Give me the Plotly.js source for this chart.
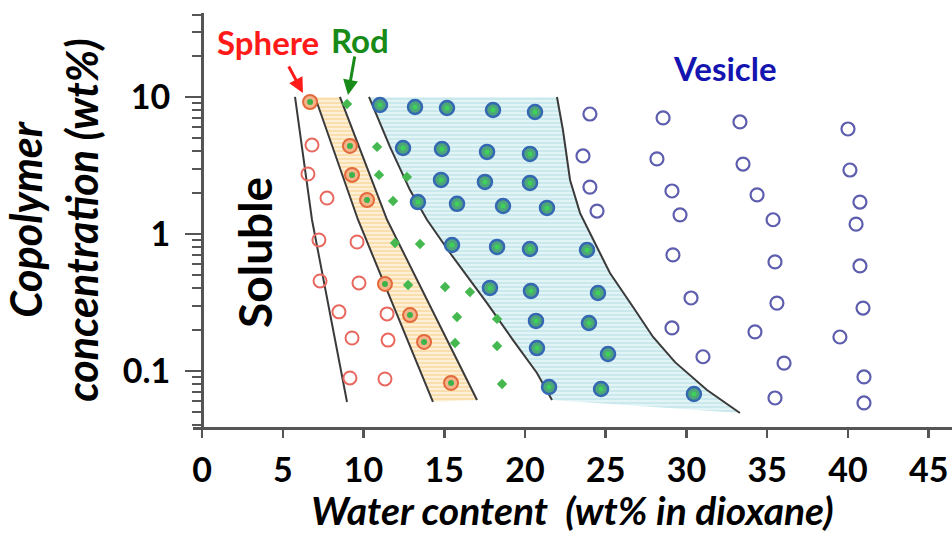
<!DOCTYPE html>
<html>
<head>
<meta charset="utf-8">
<script src="https://cdn.plot.ly/plotly-3.0.1.min.js"></script>
<style>html,body{margin:0;padding:0;background:#fff;}#chart{width:952px;height:533px;}</style>
</head>
<body>
<div id="chart"></div>
<script>
// ---- data ----
const xTicks = [0, 5, 10, 15, 20, 25, 30, 35, 40, 45];
const yTicks = [0.1, 1, 10];
const yTickText = ['0.1', '1', '10'];
const yMinorTicks = [0.04, 0.05, 0.06, 0.07, 0.08, 0.09, 0.2, 0.3, 0.4, 0.5, 0.6, 0.7, 0.8, 0.9,
                     2, 3, 4, 5, 6, 7, 8, 9, 20, 30, 40];

// Sphere (open red)
const sphereX = [6.81, 6.56, 7.74, 7.24, 9.60, 7.31, 9.72, 8.48, 11.46, 9.29, 11.52, 9.16, 11.33];
const sphereY = [4.46, 2.74, 1.83, 0.904, 0.874, 0.454, 0.439, 0.270, 0.261, 0.174, 0.168, 0.0889, 0.0874];

// Sphere + rod (red ring, green centre)
const mixSRX = [6.69, 9.16, 9.29, 10.22, 11.33, 12.88, 13.75, 15.42];
const mixSRY = [9.19, 4.39, 2.70, 1.77, 0.432, 0.256, 0.163, 0.0818];

// Rod (green)
const rodX = [8.98, 10.84, 10.96, 12.69, 11.83, 11.95, 13.50, 12.76, 15.05, 16.59, 15.79, 18.27, 15.67, 18.27, 18.58];
const rodY = [8.89, 4.32, 2.70, 2.61, 1.74, 0.860, 0.845, 0.424, 0.410, 0.377, 0.248, 0.240, 0.160, 0.152, 0.0804];

// Rod + vesicle (blue ring, green centre)
const mixRVX = [11.02, 13.19, 15.17, 18.02, 20.62, 12.45, 14.86, 17.65, 20.31, 14.80, 17.52, 20.31,
                13.37, 15.79, 18.64, 21.36, 15.48, 18.27, 20.31, 23.84, 17.83, 20.37, 24.52,
                20.68, 23.96, 20.74, 25.14, 21.49, 24.71, 30.46];
const mixRVY = [8.74, 8.45, 8.31, 8.04, 7.77, 4.24, 4.17, 3.97, 3.84, 2.48, 2.40, 2.36,
                1.71, 1.66, 1.60, 1.55, 0.831, 0.804, 0.777, 0.764, 0.404, 0.384, 0.371,
                0.232, 0.224, 0.147, 0.133, 0.0764, 0.0739, 0.0679];

// Vesicle (open blue)
const vesX = [24.02, 28.55, 33.31, 40.00, 23.59, 28.17, 33.50, 40.12, 24.02, 29.10, 34.37, 40.74,
              24.46, 29.60, 35.36, 40.50, 29.16, 35.48, 40.74, 30.28, 35.60, 40.93,
              29.10, 34.24, 39.50, 31.02, 36.04, 40.99, 35.48, 40.99];
const vesY = [7.51, 7.03, 6.57, 5.84, 3.71, 3.53, 3.24, 2.93, 2.20, 2.06, 1.93, 1.71,
              1.47, 1.38, 1.27, 1.18, 0.703, 0.625, 0.584, 0.341, 0.313, 0.288,
              0.206, 0.193, 0.177, 0.127, 0.114, 0.0904, 0.0635, 0.0584];

// Phase boundaries
const b1X = [5.76, 6.81, 8.98];            const b1Y = [10, 1.27, 0.0594];
const b2X = [7.00, 9.66, 14.30];           const b2Y = [10, 1.27, 0.0594];
const b3X = [8.54, 11.46, 17.03];          const b3Y = [10, 1.27, 0.0614];
const b4X = [10.34, 11.64, 12.88, 13.93, 15.36, 17.65, 19.26, 20.74, 21.67];
const b4Y = [10, 4.32, 2.09, 1.27, 0.726, 0.313, 0.168, 0.0966, 0.0614];
const b5X = [21.98, 22.35, 22.79, 23.41, 24.33, 25.26, 26.69, 27.93, 29.29, 31.27, 33.31];
const b5Y = [10, 5.74, 2.48, 1.42, 0.859, 0.519, 0.293, 0.177, 0.116, 0.0726, 0.0493];

// ---- traces ----
const lineStyle = {color: '#3a3a3a', width: 2};
const traces = [
  { // orange band (sphere + rod)
    x: b2X.concat(b3X.slice().reverse()), y: b2Y.concat(b3Y.slice().reverse()),
    mode: 'lines', fill: 'toself', fillcolor: '#fdf0d6', line: {width: 0},
    fillpattern: {shape: '-', fgcolor: '#f9d79c', bgcolor: '#fdf0d6', size: 4, solidity: 0.35},
    hoverinfo: 'skip', showlegend: false
  },
  { // cyan region (rod + vesicle)
    x: b4X.concat(b5X.slice().reverse()), y: b4Y.concat(b5Y.slice().reverse()),
    mode: 'lines', fill: 'toself', fillcolor: '#e3f4f6', line: {width: 0},
    fillpattern: {shape: '-', fgcolor: '#bfe5ea', bgcolor: '#e3f4f6', size: 4, solidity: 0.35},
    hoverinfo: 'skip', showlegend: false
  },
  {x: b1X, y: b1Y, mode: 'lines', line: lineStyle, showlegend: false},
  {x: b2X, y: b2Y, mode: 'lines', line: lineStyle, showlegend: false},
  {x: b3X, y: b3Y, mode: 'lines', line: lineStyle, showlegend: false},
  {x: b4X, y: b4Y, mode: 'lines', line: lineStyle, showlegend: false},
  {x: b5X, y: b5Y, mode: 'lines', line: lineStyle, showlegend: false},
  {x: sphereX, y: sphereY, mode: 'markers', name: 'Sphere',
   marker: {symbol: 'circle-open', size: 13, color: '#e8685f', line: {width: 2}}, showlegend: false},
  {x: mixSRX, y: mixSRY, mode: 'markers', name: 'Sphere + Rod',
   marker: {symbol: 'circle', size: 14, color: '#f6b48a', line: {color: '#e26a3c', width: 2}}, showlegend: false},
  {x: mixSRX, y: mixSRY, mode: 'markers', hoverinfo: 'skip',
   marker: {symbol: 'circle', size: 6, color: '#3cb44b'}, showlegend: false},
  {x: rodX, y: rodY, mode: 'markers', name: 'Rod',
   marker: {symbol: 'diamond', size: 8, color: '#45b94f'}, showlegend: false},
  {x: mixRVX, y: mixRVY, mode: 'markers', name: 'Rod + Vesicle',
   marker: {symbol: 'circle', size: 14, color: '#4ea57a', line: {color: '#3568b2', width: 2.5}}, showlegend: false},
  {x: mixRVX, y: mixRVY, mode: 'markers', hoverinfo: 'skip',
   marker: {symbol: 'circle', size: 5, color: '#3ed15a'}, showlegend: false},
  {x: vesX, y: vesY, mode: 'markers', name: 'Vesicle',
   marker: {symbol: 'circle-open', size: 13, color: '#5e5eae', line: {width: 2.2}}, showlegend: false}
];

const tickFont = {family: 'Lato, "Open Sans", sans-serif', size: 34, color: '#000', weight: 'bold'};
const xTitleFont = {family: 'Lato, "Open Sans", sans-serif', size: 39, color: '#000', weight: 'bold', style: 'italic'};
const yTitleFont = {family: 'Lato, "Open Sans", sans-serif', size: 43, color: '#000', weight: 'bold', style: 'italic'};

const layout = {
  width: 952, height: 533,
  margin: {l: 193, r: 0, t: 13, b: 106},
  paper_bgcolor: '#ffffff', plot_bgcolor: '#ffffff',
  showlegend: false,
  xaxis: {
    range: [-0.557, 46.44], tickmode: 'array', tickvals: xTicks,
    ticks: 'outside', ticklen: 8, tickwidth: 2.5, tickcolor: '#555',
    showline: true, linecolor: '#555', linewidth: 2.5,
    showgrid: false, zeroline: false, tickfont: tickFont, ticklabelstandoff: 4,
    title: {text: 'Water content\u00a0 (wt% in dioxane)', font: xTitleFont, standoff: 0}
  },
  yaxis: {
    type: 'log', range: [-1.409, 1.613], anchor: 'free', position: 0.01186,
    tickmode: 'array', tickvals: yTicks, ticktext: yTickText,
    ticks: 'outside', ticklen: 16, tickwidth: 2.5, tickcolor: '#555',
    minor: {tickmode: 'array', tickvals: yMinorTicks, ticks: 'outside', ticklen: 9, tickwidth: 2, tickcolor: '#555'},
    showline: true, linecolor: '#555', linewidth: 2.5,
    showgrid: false, zeroline: false, tickfont: tickFont, ticklabelstandoff: 8,
    title: {text: 'Copolymer<br>concentration (wt%)', font: yTitleFont, standoff: 14}
  },
  annotations: [
    {x: 4.09, y: 1.401, xref: 'x', yref: 'y', text: 'Sphere', showarrow: false,
     font: {family: 'Lato, sans-serif', size: 33, color: '#ff1a1a', weight: 'bold'}},
    {x: 9.78, y: 1.416, xref: 'x', yref: 'y', text: 'Rod', showarrow: false,
     font: {family: 'Lato, sans-serif', size: 33, color: '#178a17', weight: 'bold'}},
    {x: 32.38, y: 1.212, xref: 'x', yref: 'y', text: 'Vesicle', showarrow: false,
     font: {family: 'Lato, sans-serif', size: 33, color: '#1414b0', weight: 'bold'}},
    {x: 3.28, y: -0.131, xref: 'x', yref: 'y', text: 'Soluble', showarrow: false, textangle: -90,
     font: {family: 'Lato, sans-serif', size: 46, color: '#000', weight: 'bold'}},
    {x: 6.25, y: 1.029, xref: 'x', yref: 'y', text: '', showarrow: true, ax: -15, ay: -28,
     arrowhead: 2, arrowsize: 1, arrowwidth: 3, arrowcolor: '#ff1a1a'},
    {x: 9.04, y: 1.015, xref: 'x', yref: 'y', text: '', showarrow: true, ax: 7, ay: -40,
     arrowhead: 2, arrowsize: 1, arrowwidth: 3, arrowcolor: '#178a17'}
  ]
};

Plotly.newPlot('chart', traces, layout, {displayModeBar: false, staticPlot: true});
</script>
</body>
</html>
